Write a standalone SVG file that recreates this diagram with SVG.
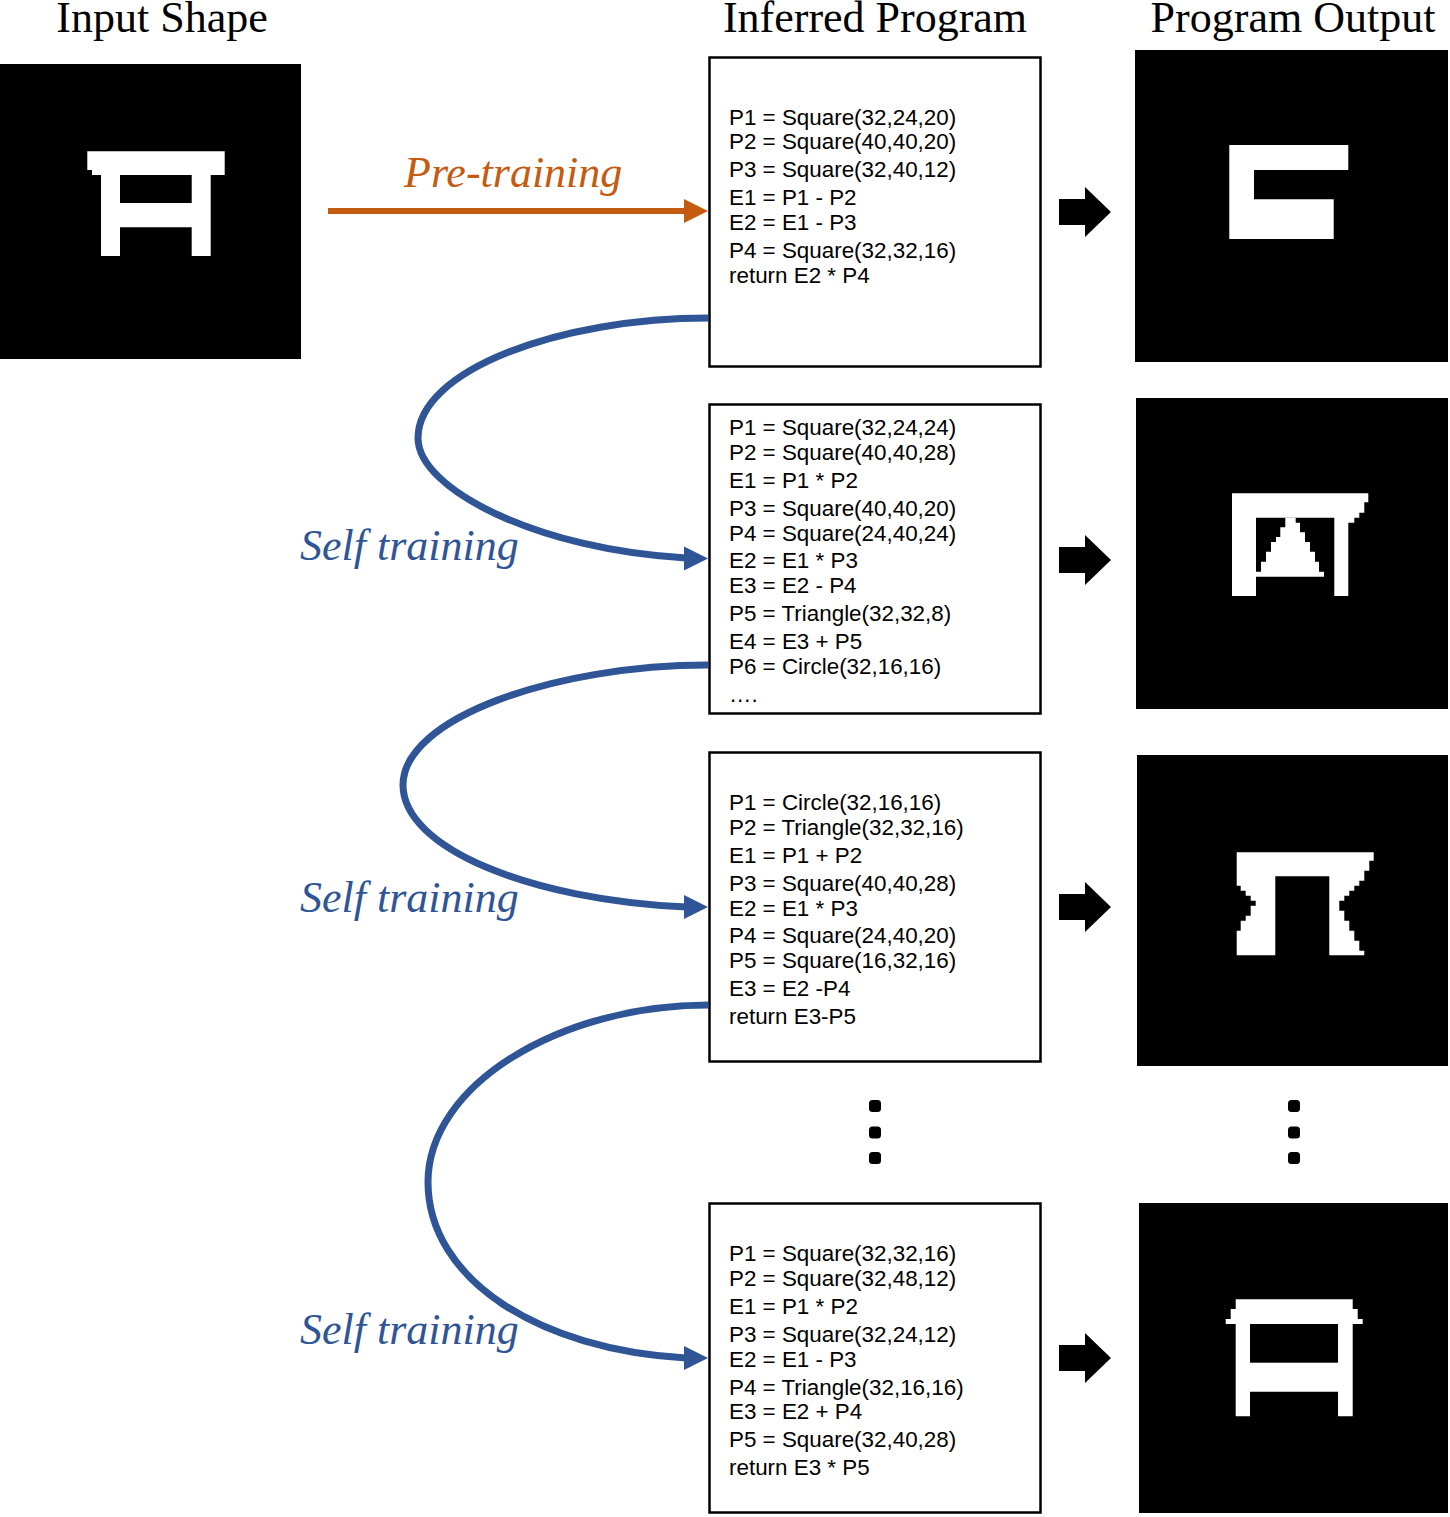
<svg xmlns="http://www.w3.org/2000/svg" width="1450" height="1517" viewBox="0 0 1450 1517">
<style>
.title{font-family:"Liberation Serif","Times New Roman",serif;font-size:44px;fill:#000;text-anchor:middle}
.lbl{font-family:"Liberation Serif","Times New Roman",serif;font-size:44px;font-style:italic}
.blue{fill:#2F5597}
.orange{fill:#C55A11}
.code{font-family:"Liberation Sans",Arial,sans-serif;font-size:22.4px;fill:#000}
.box{fill:#fff;stroke:#000;stroke-width:2.5}
.img{fill:#000}
.shape{fill:#fff}
.curve{fill:none;stroke:#2F5597;stroke-width:7}
.dot{fill:#000}
</style>
<rect width="1450" height="1517" fill="#fff"/>
<text class="title" x="162" y="32">Input Shape</text>
<text class="title" x="875" y="32">Inferred Program</text>
<text class="title" x="1293" y="32">Program Output</text>

<g id="input">
<rect class="img" x="0" y="64" width="301" height="295"/>
<polygon class="shape" points="87.3,151.3 224.7,151.3 224.7,175 210.7,175 210.7,256 191.7,256 191.7,227.3 120,227.3 120,256 101,256 101,175 92,175 92,170 87.3,170"/>
<rect class="img" x="120" y="175" width="71.7" height="28"/>
</g>

<g id="prog1">
<rect class="box" x="709.5" y="57.5" width="331" height="309"/>
<text class="code" x="729" y="125">P1 = Square(32,24,20)</text>
<text class="code" x="729" y="149">P2 = Square(40,40,20)</text>
<text class="code" x="729" y="177">P3 = Square(32,40,12)</text>
<text class="code" x="729" y="205">E1 = P1 - P2</text>
<text class="code" x="729" y="230">E2 = E1 - P3</text>
<text class="code" x="729" y="258">P4 = Square(32,32,16)</text>
<text class="code" x="729" y="283">return E2 * P4</text>
</g>

<g id="prog2">
<rect class="box" x="709.5" y="404.5" width="331" height="309"/>
<text class="code" x="729" y="435">P1 = Square(32,24,24)</text>
<text class="code" x="729" y="460">P2 = Square(40,40,28)</text>
<text class="code" x="729" y="488">E1 = P1 * P2</text>
<text class="code" x="729" y="516">P3 = Square(40,40,20)</text>
<text class="code" x="729" y="541">P4 = Square(24,40,24)</text>
<text class="code" x="729" y="568">E2 = E1 * P3</text>
<text class="code" x="729" y="593">E3 = E2 - P4</text>
<text class="code" x="729" y="621">P5 = Triangle(32,32,8)</text>
<text class="code" x="729" y="649">E4 = E3 + P5</text>
<text class="code" x="729" y="674">P6 = Circle(32,16,16)</text>
<text class="code" x="729" y="702">….</text>
</g>

<g id="prog3">
<rect class="box" x="709.5" y="752.5" width="331" height="309"/>
<text class="code" x="729" y="810">P1 = Circle(32,16,16)</text>
<text class="code" x="729" y="835">P2 = Triangle(32,32,16)</text>
<text class="code" x="729" y="863">E1 = P1 + P2</text>
<text class="code" x="729" y="891">P3 = Square(40,40,28)</text>
<text class="code" x="729" y="916">E2 = E1 * P3</text>
<text class="code" x="729" y="943">P4 = Square(24,40,20)</text>
<text class="code" x="729" y="968">P5 = Square(16,32,16)</text>
<text class="code" x="729" y="996">E3 = E2 -P4</text>
<text class="code" x="729" y="1024">return E3-P5</text>
</g>

<g id="prog4">
<rect class="box" x="709.5" y="1203.5" width="331" height="309"/>
<text class="code" x="729" y="1261">P1 = Square(32,32,16)</text>
<text class="code" x="729" y="1286">P2 = Square(32,48,12)</text>
<text class="code" x="729" y="1314">E1 = P1 * P2</text>
<text class="code" x="729" y="1342">P3 = Square(32,24,12)</text>
<text class="code" x="729" y="1367">E2 = E1 - P3</text>
<text class="code" x="729" y="1395">P4 = Triangle(32,16,16)</text>
<text class="code" x="729" y="1419">E3 = E2 + P4</text>
<text class="code" x="729" y="1447">P5 = Square(32,40,28)</text>
<text class="code" x="729" y="1475">return E3 * P5</text>
</g>

<g id="out1">
<rect class="img" x="1135" y="50" width="313" height="312"/>
<polygon class="shape" points="1229.3,145 1348.3,145 1348.3,170 1254,170 1254,199.3 1333.7,199.3 1333.7,239 1229.3,239"/>
</g>

<g id="out2">
<rect class="img" x="1136" y="398" width="312" height="311"/>
<polygon class="shape" points="1232,493.3 1368.3,493.3 1368.3,502.3 1364.3,502.3 1364.3,512.7 1359.3,512.7 1359.3,517.7 1354.3,517.7 1354.3,522.7 1348.3,522.7 1348.3,596 1334.3,596 1334.3,517.7 1256,517.7 1256,596 1232,596"/>
<polygon class="shape" points="1285.3,517.7 1295.7,517.7 1295.7,522.7 1300,522.7 1300,532.3 1305,532.3 1305,542 1310,542 1310,551.7 1315,551.7 1315,561.7 1319,561.7 1319,571.7 1324,571.7 1324,576.7 1256,576.7 1256,571.7 1261,571.7 1261,561.7 1266,561.7 1266,551.7 1271,551.7 1271,542 1276,542 1276,537 1280.3,537 1280.3,527.3 1285.3,527.3"/>
</g>

<g id="out3">
<rect class="img" x="1137" y="755" width="311" height="311"/>
<polygon class="shape" points="1236.7,852.3 1373.7,852.3 1373.7,860.7 1369.3,860.7 1369.3,870.7 1364.3,870.7 1364.3,880.7 1359.3,880.7 1359.3,885.7 1354.3,885.7 1354.3,890.7 1349.3,890.7 1349.3,895.7 1344.3,895.7 1344.3,900.7 1339.3,900.7 1339.3,910.7 1344.3,910.7 1344.3,920.7 1349.3,920.7 1349.3,930.7 1354.3,930.7 1354.3,940.7 1359.3,940.7 1359.3,950.7 1364.3,950.7 1364.3,955.3 1329.3,955.3 1329.3,876.3 1275.3,876.3 1275.3,955.3 1236.7,955.3 1236.7,930.7 1240.7,930.7 1240.7,920.7 1245.7,920.7 1245.7,915.7 1250.7,915.7 1250.7,905.7 1255.7,905.7 1255.7,900.7 1250.7,900.7 1250.7,895.7 1245.7,895.7 1245.7,890.7 1240.7,890.7 1240.7,885.7 1236.7,885.7"/>
</g>

<g id="out4">
<rect class="img" x="1139" y="1203" width="309" height="310"/>
<polygon class="shape" points="1235.7,1299.3 1352.7,1299.3 1352.7,1309 1357.7,1309 1357.7,1319 1362.7,1319 1362.7,1324 1352.7,1324 1352.7,1416.3 1338,1416.3 1338,1391.7 1250,1391.7 1250,1416.3 1235.7,1416.3 1235.7,1324 1225.7,1324 1225.7,1319 1230.7,1319 1230.7,1309 1235.7,1309"/>
<rect class="img" x="1250" y="1324" width="88" height="38.7"/>
</g>

<g id="ellipsis">
<rect class="dot" x="869" y="1100" width="12" height="12" rx="3.5"/>
<rect class="dot" x="869" y="1126.5" width="12" height="12" rx="3.5"/>
<rect class="dot" x="869" y="1152" width="12" height="12" rx="3.5"/>
<rect class="dot" x="1288" y="1100" width="12" height="12" rx="3.5"/>
<rect class="dot" x="1288" y="1126.5" width="12" height="12" rx="3.5"/>
<rect class="dot" x="1288" y="1152" width="12" height="12" rx="3.5"/>
</g>

<g id="connectors">
<line x1="328" y1="211" x2="686" y2="211" stroke="#C55A11" stroke-width="6"/>
<polygon class="orange" points="684,199 708,211 684,223"/>
<path class="curve" d="M708,318 C560,318 418,370 418,438 C418,490 540,550 686,558"/>
<polygon class="blue" points="684,546.5 708,558.5 684,570.5"/>
<path class="curve" d="M708,665 C555,665 403,718 403,785 C403,848 530,900 686,907"/>
<polygon class="blue" points="684,895 708,907 684,919"/>
<path class="curve" d="M708,1005 C560,1005 428,1085 428,1182 C428,1280 540,1350 686,1358"/>
<polygon class="blue" points="684,1346 708,1358 684,1370"/>
<polygon points="1059,199 1085,199 1085,187 1111,212 1085,237 1085,225 1059,225"/>
<polygon points="1059,547 1085,547 1085,535 1111,560 1085,585 1085,573 1059,573"/>
<polygon points="1059,894 1085,894 1085,882 1111,907 1085,932 1085,920 1059,920"/>
<polygon points="1059,1345 1085,1345 1085,1333 1111,1358 1085,1383 1085,1371 1059,1371"/>
</g>

<text class="lbl orange" x="404" y="187">Pre-training</text>
<text class="lbl blue" x="300" y="560">Self training</text>
<text class="lbl blue" x="300" y="912">Self training</text>
<text class="lbl blue" x="300" y="1344">Self training</text>
</svg>
